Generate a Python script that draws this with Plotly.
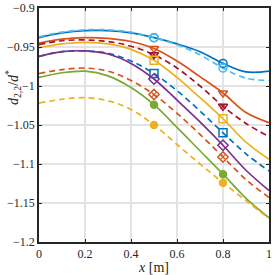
import plotly.graph_objects as go

x = [0.0, 0.1, 0.2, 0.3, 0.4, 0.5, 0.6, 0.7, 0.8, 0.9, 1.0]

blue_solid = [-0.938, -0.932, -0.929, -0.929, -0.932, -0.938, -0.946, -0.956, -0.971, -0.982, -0.981]
lightblue_dashed = [-0.937, -0.931, -0.928, -0.928, -0.931, -0.938, -0.947, -0.960, -0.977, -0.990, -0.993]
orange_solid = [-0.945, -0.940, -0.938, -0.939, -0.943, -0.952, -0.968, -0.988, -1.009, -1.034, -1.047]
darkred_dashed = [-0.947, -0.942, -0.941, -0.943, -0.949, -0.960, -0.977, -1.000, -1.026, -1.048, -1.065]
yellow_solid = [-0.951, -0.946, -0.944, -0.946, -0.953, -0.967, -0.989, -1.015, -1.042, -1.072, -1.094]
blue_dashed = [-0.962, -0.956, -0.955, -0.958, -0.968, -0.984, -1.006, -1.032, -1.060, -1.087, -1.109]
purple_solid = [-0.962, -0.956, -0.955, -0.959, -0.971, -0.991, -1.018, -1.046, -1.076, -1.108, -1.134]
orange_dashed = [-0.984, -0.979, -0.977, -0.981, -0.993, -1.011, -1.035, -1.062, -1.091, -1.120, -1.143]
green_solid = [-0.989, -0.983, -0.981, -0.987, -1.002, -1.024, -1.053, -1.083, -1.113, -1.144, -1.169]
yellow_dashed = [-1.022, -1.017, -1.015, -1.019, -1.030, -1.050, -1.075, -1.100, -1.124, -1.147, -1.170]

marker_x = [0.5, 0.8]

x_tickvals = [0, 0.2, 0.4, 0.6, 0.8, 1]
x_ticktext = ["0", "0.2", "0.4", "0.6", "0.8", "1"]
y_tickvals = [-1.2, -1.15, -1.1, -1.05, -1.0, -0.95, -0.9]
y_ticktext = ["\u22121.2", "\u22121.15", "\u22121.1", "\u22121.05", "\u22121", "\u22120.95", "\u22120.9"]

x_title = "<i>x</i> [m]"
y_title = "<i>d</i><sub>2,2</sub>/<i>d</i><sup>*</sup>"

series = [
    (blue_solid, "#0072BD", "solid", "circle-open", "#0072BD"),
    (lightblue_dashed, "#4DBEEE", "dash", "circle-open", "#4DBEEE"),
    (orange_solid, "#D95319", "solid", "triangle-down-open", "#D95319"),
    (darkred_dashed, "#A2142F", "dash", "triangle-down-open", "#A2142F"),
    (yellow_solid, "#EDB120", "solid", "square-open", "#EDB120"),
    (blue_dashed, "#0072BD", "dash", "square-open", "#0072BD"),
    (purple_solid, "#7E2F8E", "solid", "diamond-open", "#7E2F8E"),
    (orange_dashed, "#D95319", "dash", "diamond-open", "#D95319"),
    (green_solid, "#77AC30", "solid", "circle", "#77AC30"),
    (yellow_dashed, "#EDB120", "dash", "circle", "#EDB120"),
]

fig = go.Figure()
for ys, col, dash, sym, mcol in series:
    fig.add_trace(go.Scatter(
        x=x, y=ys, mode="lines",
        line=dict(color=col, width=1.7, shape="spline", smoothing=1.0,
                  dash="solid" if dash == "solid" else "6px,4px"),
        showlegend=False, hoverinfo="skip"))
for ys, col, dash, sym, mcol in series:
    my = [ys[x.index(v)] for v in marker_x]
    fig.add_trace(go.Scatter(
        x=marker_x, y=my, mode="markers",
        marker=dict(symbol=sym, color=mcol, size=8 if "open" in sym else 7,
                    line=dict(color=mcol, width=1.5)),
        showlegend=False, hoverinfo="skip"))
    if sym in ("triangle-down-open", "diamond-open") and dash == "dash":
        fig.add_trace(go.Scatter(
            x=marker_x, y=my, mode="markers",
            marker=dict(symbol="x-thin-open", color=mcol, size=5,
                        line=dict(color=mcol, width=1.1)),
            showlegend=False, hoverinfo="skip"))

font = dict(family="Liberation Serif, DejaVu Serif, serif", size=12, color="#262626")
title_font = dict(family="Liberation Serif, DejaVu Serif, serif", size=14, color="#262626")

axis_common = dict(
    showgrid=True, gridcolor="#e3e3e3", gridwidth=1.5,
    zeroline=False, showline=True, linecolor="#262626", linewidth=1.6,
    mirror="allticks", ticks="inside", ticklen=3, tickwidth=1, tickcolor="#262626",
    tickfont=font, automargin=False,
)

fig.update_layout(
    width=275, height=275,
    margin=dict(l=39, r=6, t=8, b=33),
    paper_bgcolor="white", plot_bgcolor="white",
    font=font,
    xaxis=dict(range=[0, 1], tickvals=x_tickvals, ticktext=x_ticktext,
               title=dict(text=x_title, font=title_font, standoff=0), **axis_common),
    yaxis=dict(range=[-1.2, -0.9], tickvals=y_tickvals, ticktext=y_ticktext, **axis_common),
    annotations=[dict(text=y_title, xref="paper", yref="paper", x=-0.115, y=0.66,
                      xanchor="center", yanchor="middle", textangle=-90,
                      showarrow=False, font=title_font)],
)

fig.write_html("out.html", config={"displayModeBar": False},
               post_script="document.body.style.margin='0';document.body.style.overflow='hidden';")
